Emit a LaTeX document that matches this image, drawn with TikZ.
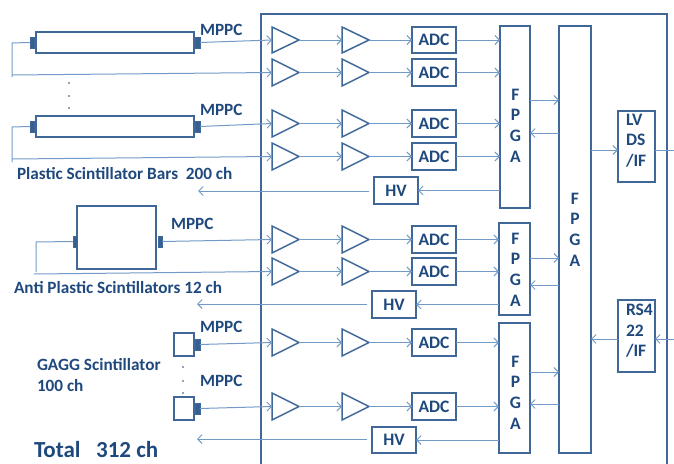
\documentclass[tikz,border=0pt]{standalone}
\usepackage{fontspec}
\setmainfont{Carlito}
\usetikzlibrary{arrows.meta}
\definecolor{boxc}{HTML}{3F6898}
\definecolor{linec}{HTML}{7399C6}
\definecolor{textc}{HTML}{1F497D}
\definecolor{sipmc}{HTML}{376092}
\newcommand{\bigf}{\fontsize{17.5}{20.6}\selectfont\bfseries}
\tikzset{
  x=1pt,y=-1pt,
  every node/.style={inner sep=0pt,outer sep=0pt},
  boxs/.style={draw=boxc,line width=1.5pt,fill=white},
  sipm/.style={draw=boxc,line width=.5pt,fill=sipmc},
  conn/.style={draw=linec,line width=1pt,-{Straight Barb[length=4.5pt,width=9pt,line width=.9pt]}},
  wire/.style={draw=linec,line width=1pt},
  txt/.style={text=textc,font=\bigf},
  lab/.style={text=textc,font=\fontsize{17.2}{21}\selectfont\bfseries,anchor=west},
  mlab/.style={text=textc,font=\fontsize{17.2}{20}\selectfont\bfseries,anchor=west},
  stack/.style={txt,align=center},
  stackl/.style={txt,align=left,anchor=north west},
  dotn/.style={circle,fill=textc,minimum size=1.8pt}
}
\newcommand{\bx}[6]{\node[boxs,minimum width=#4-#2,minimum height=#5-#3] (#1) at ({(#2+#4)/2},{(#3+#5)/2}) {#6};}
\newcommand{\ampl}[4]{%
  \draw[draw=boxc,line width=1.5pt,line join=miter] (#2,#3) -- (#2,#4) -- (#2+27,{(#3+#4)/2}) -- cycle;
  \coordinate (#1-in) at (#2,{(#3+#4)/2});
  \coordinate (#1-out) at (#2+27,{(#3+#4)/2});}
\begin{document}
\begin{tikzpicture}
\useasboundingbox (0,0) rectangle (674,463);
\clip (0,0) rectangle (674,463);
% main enclosure
\draw[draw=boxc,line width=1.5pt] (261,470) -- (261,14) -- (667,14) -- (667,470);
% detectors
\bx{bar1}{36}{32}{194}{53}{}
\bx{bar2}{36}{116}{194}{137}{}
\bx{anti}{77}{206}{156}{269}{}
\bx{gag1}{174}{333}{194}{356}{}
\bx{gag2}{174}{397}{194}{420}{}
\foreach \n/\x/\y in {bl1/32/42.5,br1/197.5/42.5,bl2/32/126.5,br2/197.5/126.5,al/75/241.5,ar/160/241.5,g1/197.5/344.5,g2/197.5/408.5}
  \node[sipm,minimum width=4.5pt,minimum height=11pt] (\n) at (\x,\y) {};
% channels
\foreach \n/\t/\b/\f in {1/27/53/fa,2/59/86/fa,3/110/137/fa,4/143/170/fa,5/226/253/fb,6/258/285/fb,7/329/356/fc,8/393/420/fc}{
  \ampl{a\n}{272}{\t}{\b}
  \ampl{c\n}{342}{\t}{\b}
  \bx{adc\n}{412}{\t}{456}{\b}{\textcolor{textc}{\bigf ADC}}
}
% FPGAs
\bx{fa}{500}{26}{530}{208}{}
\bx{fb}{499}{223}{530}{315}{}
\bx{fc}{499}{323}{530}{453}{}
\bx{fm}{559}{26}{591}{453}{}
\bx{lvds}{618}{111}{655}{182}{}
\bx{rs}{618}{300}{655}{372}{}
\bx{hva}{374}{177}{418}{204}{\textcolor{textc}{\bigf HV}}
\bx{hvb}{372}{291}{416}{318}{\textcolor{textc}{\bigf HV}}
\bx{hvc}{372}{427}{416}{453}{\textcolor{textc}{\bigf HV}}
\node[stack] (ta) at (515.5,125.5) {F\\P\\G\\A};
\node[stack] (tb) at (515.5,269.5) {F\\P\\G\\A};
\node[stack] (tc) at (515.5,392.5) {F\\P\\G\\A};
\node[stack] (tm) at (575,229.5) {F\\P\\G\\A};
\node[stackl] (tl) at (626,114) {LV\\DS\\/IF};
\node[stackl] (tr) at (626,304) {RS4\\22\\/IF};
% free ends
\coordinate (ha) at (198,191);
\coordinate (hb) at (197,304);
\coordinate (hc) at (197,439);
\coordinate (lvo) at (674,150);
\coordinate (rsi) at (674,339);
\coordinate (b1a) at (12,43);
\coordinate (b1b) at (12,77);
\coordinate (b1c) at (12,75);
\coordinate (b2a) at (12,127);
\coordinate (b2b) at (12,162);
\coordinate (b2c) at (12,159);
\coordinate (ana) at (36,242);
\coordinate (anb) at (36,272);
\coordinate (anc) at (34,274);
% detector wiring
\draw[conn] (br1.east) -- (a1-in);
\draw[wire] (bl1.west) -- (b1a) -- (b1b);
\draw[conn] (b1c) -- (a2-in);
\draw[conn] (br2.east) -- (a3-in);
\draw[wire] (bl2.west) -- (b2a) -- (b2b);
\draw[conn] (b2c) -- (a4-in);
\draw[conn] (ar.east) -- (a5-in);
\draw[wire] (al.west) -- (ana) -- (anb);
\draw[conn] (anc) -- (a6-in);
\draw[conn] (g1.east) -- (a7-in);
\draw[conn] (g2.east) -- (a8-in);
% channel wiring
\foreach \n/\f in {1/fa,2/fa,3/fa,4/fa,5/fb,6/fb,7/fc,8/fc}{
  \draw[conn] (a\n-out) -- (c\n-in);
  \draw[conn] (c\n-out) -- (adc\n.west);
  \draw[conn] (adc\n.east) -- (adc\n.east -| \f.west);
}
% FPGA links
\draw[conn] (fa.east |- 0,100) -- (fm.west |- 0,100);
\draw[conn] (fm.west |- 0,133) -- (fa.east |- 0,133);
\draw[conn] (fb.east |- 0,258) -- (fm.west |- 0,258);
\draw[conn] (fm.west |- 0,285) -- (fb.east |- 0,285);
\draw[conn] (fc.east |- 0,372) -- (fm.west |- 0,372);
\draw[conn] (fm.west |- 0,404) -- (fc.east |- 0,404);
\draw[conn] (fm.east |- lvo) -- (lvds.west |- lvo);
\draw[wire] (lvds.east |- lvo) -- (lvo);
\draw[conn] (rs.west |- rsi) -- (fm.east |- rsi);
\draw[conn] (rsi) -- (rs.east |- rsi);
% HV
\draw[conn] (fa.west |- hva.east) -- (hva.east);
\draw[conn] (fb.west |- hvb.east) -- (hvb.east);
\draw[conn] (fc.west |- hvc.east) -- (hvc.east);
\draw[conn] (369,191) -- (ha);
\draw[conn] (367,304) -- (hb);
\draw[conn] (367,439) -- (hc);
% labels
\node[mlab] (m1) at (200,29.5) {MPPC};
\node[mlab] (m2) at (200,109.5) {MPPC};
\node[mlab] (m3) at (171,223.5) {MPPC};
\node[mlab] (m4) at (200,326.5) {MPPC};
\node[mlab] (m5) at (200,380.5) {MPPC};
\node[lab] (l1) at (17,174) {Plastic Scintillator Bars\ \ 200 ch};
\node[lab] (l2) at (14,288) {Anti Plastic Scintillators 12 ch};
\node[lab,align=left] (l3) at (37,375) {GAGG Scintillator\\100 ch};
\node[lab,font=\fontsize{23}{26}\selectfont\bfseries] (l4) at (34,450) {Total\ \ \ 312 ch};
\foreach \n/\x/\y in {d1/69/83,d2/69/96,d3/69/108,d4/183/367,d5/183/381,d6/183/393}
  \node[dotn] (\n) at (\x,\y) {};
\end{tikzpicture}
\end{document}
